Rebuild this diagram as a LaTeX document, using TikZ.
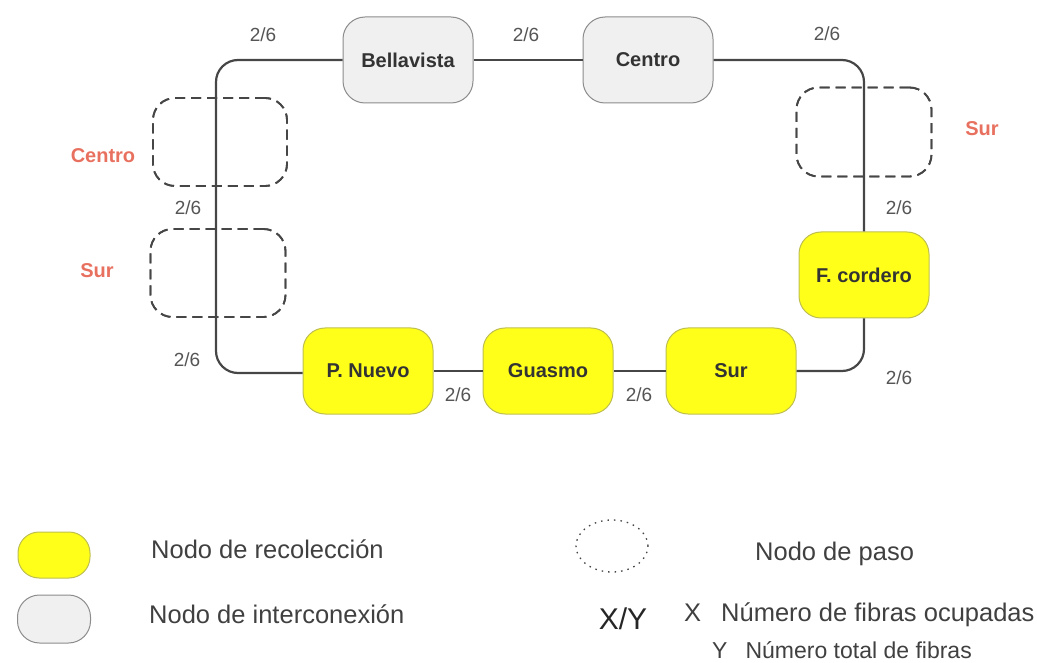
\documentclass[tikz,border=0pt]{standalone}
\usepackage{fontspec}
\setmainfont{Liberation Sans}
\usetikzlibrary{shapes.geometric}
\definecolor{lineclr}{RGB}{70,70,70}
\definecolor{yel}{RGB}{255,255,26}
\definecolor{yelborder}{RGB}{190,190,80}
\definecolor{grayfill}{RGB}{240,240,240}
\definecolor{grayborder}{RGB}{140,140,140}
\definecolor{redlbl}{RGB}{232,112,95}
\definecolor{lbl}{RGB}{85,85,85}
\tikzset{
  nodebox/.style={rounded corners=22pt, minimum width=130pt, minimum height=86pt, line width=1pt,
    font=\fontsize{20}{22}\selectfont\bfseries, text=black!80, inner sep=0pt},
  recol/.style={nodebox, fill=yel, draw=yelborder},
  inter/.style={nodebox, fill=grayfill, draw=grayborder},
  passbox/.style={draw=lineclr, dash pattern=on 10pt off 6pt, line width=1.8pt, rounded corners=22pt, inner sep=0pt},
  conn/.style={draw=lineclr, line width=2.2pt, rounded corners=22pt},
  frac/.style={font=\fontsize{19}{21}\selectfont, text=lbl, inner sep=0pt},
  redtxt/.style={font=\fontsize{20}{22}\selectfont\bfseries, text=redlbl, inner sep=0pt},
  legtxt/.style={font=\fontsize{25.5}{28}\selectfont, text=black!75, inner sep=0pt, anchor=west},
}
\begin{document}
\begin{tikzpicture}[x=1pt,y=-1pt]
\useasboundingbox (0,0) rectangle (1037,663);
% pass-through (dashed) boxes
\node[passbox, minimum width=134pt, minimum height=88pt] (pl1) at (220,142) {};
\node[passbox, minimum width=135pt, minimum height=88pt] (pl2) at (218,273) {};
\node[passbox, minimum width=135pt, minimum height=89pt] (pr) at (864,132) {};
% main nodes
\node[inter] (bella) at (408,60) {Bellavista};
\node[inter] (centro) at (648,60) {Centro};
\node[recol] (fc) at (864,275) {F. cordero};
\node[recol] (sur) at (731,371) {Sur};
\node[recol] (guasmo) at (548,371) {Guasmo};
\node[recol] (pn) at (368,371) {P. Nuevo};
% corner coordinates
\coordinate (tl) at (216,60);
\coordinate (bl) at (216,373);
\coordinate (tr) at (864,60);
\coordinate (br) at (864,371);
% connectors
\draw[conn] (bella.west) -- (tl) -- (bl) -- (pn.west |- bl);
\draw[conn] (bella.east) -- (centro.west);
\draw[conn] (centro.east) -- (tr) -- (fc.north);
\draw[conn] (fc.south) -- (br) -- (sur.east);
\draw[conn] (sur.west) -- (guasmo.east);
\draw[conn] (guasmo.west) -- (pn.east);
% redraw dashed boxes on top
\node[passbox, minimum width=134pt, minimum height=88pt] at (220,142) {};
\node[passbox, minimum width=135pt, minimum height=88pt] at (218,273) {};
\node[passbox, minimum width=135pt, minimum height=89pt] at (864,132) {};
% fraction labels
\node[frac] (f1) at (263,35) {2/6};
\node[frac] (f2) at (526,35) {2/6};
\node[frac] (f3) at (827,34) {2/6};
\node[frac] (f4) at (188,208) {2/6};
\node[frac] (f5) at (899,208) {2/6};
\node[frac] (f6) at (187,360) {2/6};
\node[frac] (f7) at (458,395) {2/6};
\node[frac] (f8) at (639,395) {2/6};
\node[frac] (f9) at (899,378) {2/6};
% red labels
\node[redtxt] (rc) at (103,156) {Centro};
\node[redtxt] (rs1) at (97,271) {Sur};
\node[redtxt] (rs2) at (982,129) {Sur};
% legend
\node[fill=yel, draw=yelborder, line width=1pt, rounded corners=21pt, minimum width=72pt, minimum height=46pt, inner sep=0pt] (ly) at (54,555) {};
\node[fill=grayfill, draw=grayborder, line width=1pt, rounded corners=22pt, minimum width=73pt, minimum height=48pt, inner sep=0pt] (lg) at (54,619) {};
\node[legtxt] (t1) at (151,549) {Nodo de recolección};
\node[legtxt] (t2) at (149,614) {Nodo de interconexión};
\node[ellipse, draw=lineclr, line width=1.3pt, dash pattern=on 1.5pt off 5pt, minimum width=72pt, minimum height=52pt, inner sep=0pt] (le) at (612,546) {};
\node[legtxt] (t3) at (755,554) {Nodo de paso};
\node[font=\fontsize{30}{32}\selectfont, text=black!85, inner sep=0pt] (xy) at (623,619) {X/Y};
\node[legtxt] (tx) at (684,615) {X\hspace{20pt}Número de fibras ocupadas};
\node[legtxt, font=\fontsize{23}{26}\selectfont] (ty) at (712,650) {Y\hspace{18pt}Número total de fibras};
\end{tikzpicture}
\end{document}
